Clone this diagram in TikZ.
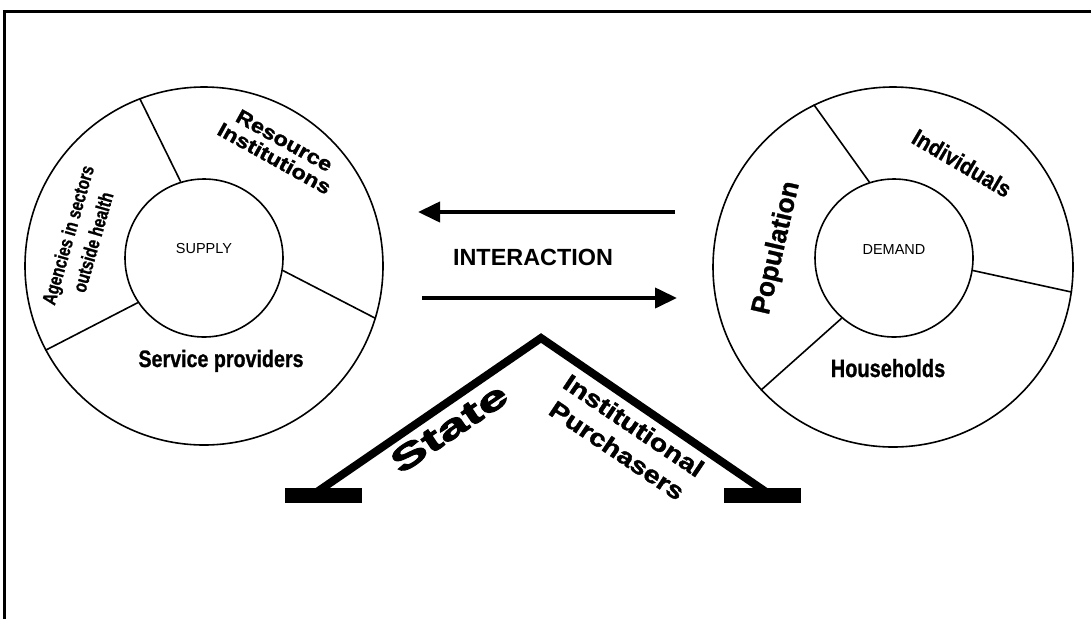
\documentclass[tikz,border=0pt]{standalone}
\usepackage{graphicx}
\usepackage{fontspec}
\setmainfont{Liberation Sans}
\newfontfamily\boldface{Liberation Sans Bold}
\newfontfamily\semiheavy{Liberation Sans Bold}[FakeBold=1]
\newfontfamily\heavyA{Liberation Sans Bold}[FakeBold=1.5]
\newfontfamily\heavyB{Liberation Sans Bold}[FakeBold=2.5]
\usetikzlibrary{arrows.meta}
% horizontal stretch of a (possibly multi-line, centred) label
\newcommand\hstretch[2]{\scalebox{#1}[1]{\begin{tabular}{@{}c@{}}#2\end{tabular}}}
\begin{document}
\begin{tikzpicture}[x=1pt,y=-1pt,
  ring/.style={circle,draw,line width=1.6pt,inner sep=0pt},
  divider/.style={line width=1.6pt},
  txt/.style={inner sep=0pt,text=black},
  flow/.style={line width=4pt,-{Triangle[length=22pt,width=20pt]}},
  roof/.style={line width=8pt,line join=miter},
  foot/.style={fill=black},
]
\useasboundingbox (0,0) rectangle (1091,619);
\fill[white] (0,0) rectangle (1091,619);
% frame
\draw[line width=3pt] (1091,11.5) -- (4.5,11.5) -- (4.5,619);

% supply wheel
\node[ring,minimum size=358pt] (supout) at (204,266) {};
\node[ring,minimum size=158pt] (supin) at (204,258) {};
\draw[divider] (supin.107) -- (supout.111);
\draw[divider] (supin.-9) -- (supout.-17);
\draw[divider] (supin.214) -- (supout.208);
\node[txt,font=\fontsize{14.5}{17}\selectfont] (supply) at (204,249) {SUPPLY};
\node[txt,rotate=-29,font=\heavyA\fontsize{20}{20}\selectfont] (resinst) at (278,152) {\hstretch{1.17}{Resource\\Institutions}};
\node[txt,rotate=74,font=\semiheavy\fontsize{19.5}{26}\selectfont] (agencies) at (82,239) {\hstretch{0.78}{Agencies in sectors\\outside health}};
\node[txt,anchor=base,font=\semiheavy\fontsize{23.7}{28}\selectfont] (service) at (221,367) {\scalebox{0.83}[1]{Service providers}};

% demand wheel
\node[ring,minimum size=360pt] (demout) at (893,267) {};
\node[ring,minimum size=158pt] (demin) at (894,258) {};
\draw[divider] (demin.108) -- (demout.116);
\draw[divider] (demin.-9) -- (demout.-8);
\draw[divider] (demin.229) -- (demout.223);
\node[txt,font=\fontsize{14.5}{17}\selectfont] (demand) at (894,250) {DEMAND};
\node[txt,rotate=-30.5,font=\semiheavy\fontsize{23.5}{28}\selectfont] (indiv) at (962,163) {\scalebox{0.9}[1]{Individuals}};
\node[txt,rotate=77,font=\semiheavy\fontsize{27}{32}\selectfont] (popul) at (777,248) {\scalebox{0.97}[1]{Population}};
\node[txt,anchor=base,font=\semiheavy\fontsize{25}{30}\selectfont] (house) at (888,377) {\scalebox{0.8}[1]{Households}};

% interaction arrows
\coordinate (topstart) at (675,212);
\coordinate (topend) at (418,212);
\coordinate (botstart) at (422,298);
\coordinate (botend) at (677,298);
\draw[flow] (topstart) -- (topend);
\draw[flow] (botstart) -- (botend);
\node[txt,font=\boldface\fontsize{23.4}{28}\selectfont] (interaction) at (533,257) {INTERACTION};

% roof
\coordinate (apex) at (541,338);
\coordinate (lfoot) at (314,494);
\coordinate (rfoot) at (769,494);
\draw[roof] (lfoot) -- (apex) -- (rfoot);
\fill[foot] (285,488) rectangle (362,503);
\fill[foot] (724,488) rectangle (801,503);
\node[txt,rotate=34,font=\heavyB\fontsize{34}{34}\selectfont] (state) at (449,428) {\scalebox{1.6}[1]{State}};
\node[txt,rotate=-34,font=\heavyA\fontsize{24}{30}\selectfont] (purch) at (624,440) {\hstretch{1.2}{Institutional\\Purchasers}};
\end{tikzpicture}
\end{document}
